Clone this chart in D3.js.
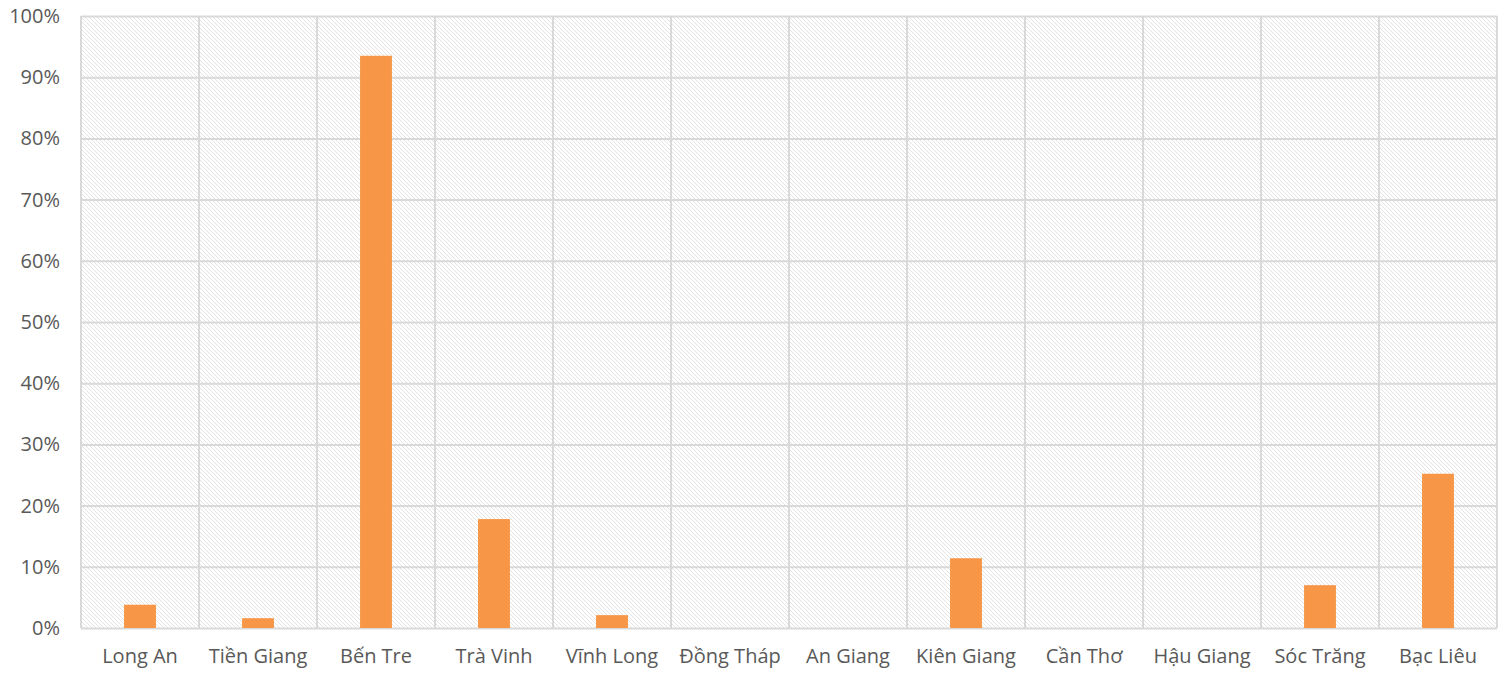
<!DOCTYPE html>
<html>
<head>
<meta charset="utf-8">
<script src="https://cdn.jsdelivr.net/npm/d3@7"></script>
<style>
  body { margin: 0; background: white; }
  text { font-family: "Open Sans", "Noto Sans", sans-serif; }
</style>
</head>
<body>
<div id="container"></div>
<script>
let w = 1507;
let h = 675;
let margin = {top: 16, right: 10, bottom: 47, left: 81};

// data
let provinces = ["Long An", "Tiền Giang", "Bến Tre", "Trà Vinh", "Vĩnh Long", "Đồng Tháp",
  "An Giang", "Kiên Giang", "Cần Thơ", "Hậu Giang", "Sóc Trăng", "Bạc Liêu"];
let shares = [3.8, 1.6, 93.5, 17.8, 2.1, 0, 0, 11.4, 0, 0, 7.0, 25.2];
let yTicks = [0, 10, 20, 30, 40, 50, 60, 70, 80, 90, 100];

let data = provinces.map(function (p, i) {
  return {name: p, value: shares[i]};
});

let viz = d3.select("#container").append("svg")
  .attr("width", w)
  .attr("height", h);

// hatch pattern for plot background
let pattern = viz.append("defs").append("pattern")
  .attr("id", "hatch")
  .attr("patternUnits", "userSpaceOnUse")
  .attr("width", 4)
  .attr("height", 4);
pattern.append("path")
  .attr("d", "M-1,-1 L5,5 M-1,3 L1,5 M3,-1 L5,1")
  .attr("stroke", "#e3e3e3")
  .attr("stroke-width", 1);

let x = d3.scaleBand()
  .domain(provinces)
  .range([margin.left, w - margin.right]);

let y = d3.scaleLinear()
  .domain([0, 100])
  .range([h - margin.bottom, margin.top]);

// plot background
viz.append("rect")
  .attr("x", margin.left)
  .attr("y", margin.top)
  .attr("width", w - margin.right - margin.left)
  .attr("height", h - margin.bottom - margin.top)
  .attr("fill", "url(#hatch)");

// horizontal gridlines
let yAxis = viz.append("g")
  .attr("transform", "translate(" + margin.left + ",0)")
  .call(d3.axisLeft(y).tickValues(yTicks)
    .tickSize(-(w - margin.right - margin.left))
    .tickFormat(function (d) { return d + "%"; }));
yAxis.select(".domain").remove();
yAxis.selectAll("line").attr("stroke", "#d9d9d9").attr("stroke-width", 2);
yAxis.selectAll("text")
  .attr("x", -21)
  .attr("fill", "#595959")
  .style("font-size", "20px");

// vertical gridlines between categories
let bounds = provinces.map(function (p) { return x(p); }).concat([w - margin.right]);
viz.append("g").selectAll("line").data(bounds).enter()
  .append("line")
  .attr("x1", function (d) { return d; })
  .attr("x2", function (d) { return d; })
  .attr("y1", margin.top)
  .attr("y2", h - margin.bottom)
  .attr("stroke", "#d9d9d9")
  .attr("stroke-width", 2);

// bars
let barW = x.bandwidth() * 0.27;
viz.append("g").selectAll("rect").data(data).enter()
  .append("rect")
  .attr("x", function (d) { return x(d.name) + x.bandwidth() / 2 - barW / 2; })
  .attr("y", function (d) { return y(d.value); })
  .attr("width", barW)
  .attr("height", function (d) { return y(0) - y(d.value); })
  .attr("fill", "#f79646");

// x axis labels
let xAxis = viz.append("g")
  .attr("transform", "translate(0," + (h - margin.bottom) + ")")
  .call(d3.axisBottom(x).tickSize(0));
xAxis.select(".domain").remove();
xAxis.selectAll("text")
  .attr("dy", 0)
  .attr("y", 35)
  .attr("fill", "#595959")
  .style("font-size", "20px");
</script>
</body>
</html>
